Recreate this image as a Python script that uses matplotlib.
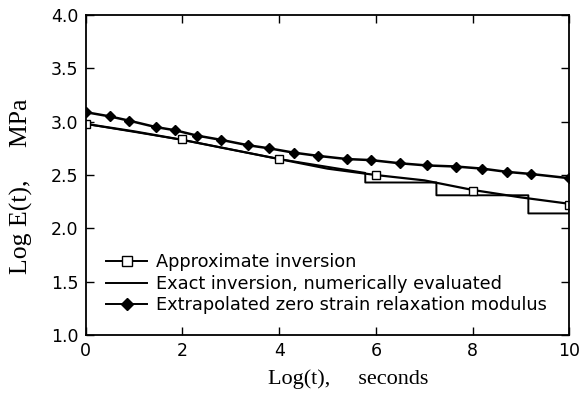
import numpy as np
import matplotlib.pyplot as plt
from matplotlib.lines import Line2D

# extrapolated zero strain modulus (diamonds)
x_extrap = [0, 0.5, 0.9, 1.45, 1.85, 2.3, 2.8, 3.35, 3.8, 4.3, 4.8, 5.4,
            5.9, 6.5, 7.05, 7.65, 8.2, 8.7, 9.2, 10.0]
y_extrap = [3.09, 3.05, 3.01, 2.95, 2.92, 2.87, 2.83, 2.78, 2.75, 2.71, 2.68,
            2.65, 2.64, 2.61, 2.59, 2.58, 2.56, 2.53, 2.51, 2.47]

# exact inversion
x_exact = [0, 1, 2, 3, 4, 5, 6, 7, 8, 9, 10]
y_exact = [2.98, 2.91, 2.83, 2.74, 2.65, 2.56, 2.50, 2.45, 2.36, 2.29, 2.23]

# approximate inversion (stepped line + squares)
x_approx = [0, 2, 4, 5.78, 5.78, 7.25, 7.25, 9.15, 9.15, 10, 10]
y_approx = [2.98, 2.83, 2.65, 2.52, 2.43, 2.43, 2.31, 2.31, 2.14, 2.14, 2.22]
x_sq = [0, 2, 4, 6, 8, 10]
y_sq = [2.98, 2.84, 2.65, 2.50, 2.35, 2.22]

fig = plt.figure(figsize=(5.82, 4.08), dpi=100)
ax = fig.add_axes([0.147, 0.179, 0.8315, 0.784])

ax.plot(x_exact, y_exact, color='k', lw=1.6)
ax.plot(x_approx, y_approx, color='k', lw=1.4)
ax.plot(x_sq, y_sq, ls='none', marker='s', ms=6, mfc='white', mec='k', mew=1.0)
ax.plot(x_extrap, y_extrap, color='k', lw=1.8, marker='D', ms=5.5, mfc='k', mec='k')

ax.set_xlim(0, 10)
ax.set_ylim(1.0, 4.0)
ax.set_xticks([0, 2, 4, 6, 8, 10])
ax.set_yticks([1.0, 1.5, 2.0, 2.5, 3.0, 3.5, 4.0])
ax.set_yticklabels(['1.0', '1.5', '2.0', '2.5', '3.0', '3.5', '4.0'])
ax.tick_params(direction='in', length=6, width=1, top=True, right=True,
               labelsize=12.5, pad=5)
for lbl in ax.get_xticklabels() + ax.get_yticklabels():
    lbl.set_family('DejaVu Sans')
for s in ax.spines.values():
    s.set_linewidth(1.3)

ax.set_xlabel('Log(t),     seconds', family='Liberation Serif', fontsize=16)
ax.set_ylabel('Log E(t),     MPa', family='Liberation Serif', fontsize=18.5)
ax.xaxis.set_label_coords(0.542, -0.108)
ax.yaxis.set_label_coords(-0.108, 0.466)

handles = [
    Line2D([], [], color='k', lw=1.4, marker='s', mfc='white', mec='k', ms=7),
    Line2D([], [], color='k', lw=1.4),
    Line2D([], [], color='k', lw=1.4, marker='D', mfc='k', ms=6),
]
labels = ['Approximate inversion', 'Exact inversion, numerically evaluated',
          'Extrapolated zero strain relaxation modulus']
ax.legend(handles, labels, loc='lower left', bbox_to_anchor=(0.01, 0.014),
          frameon=False, handlelength=2.3, handletextpad=0.5,
          labelspacing=0.2, prop={'family': 'DejaVu Sans', 'size': 12.8})

fig.savefig('out.png', dpi=100)
